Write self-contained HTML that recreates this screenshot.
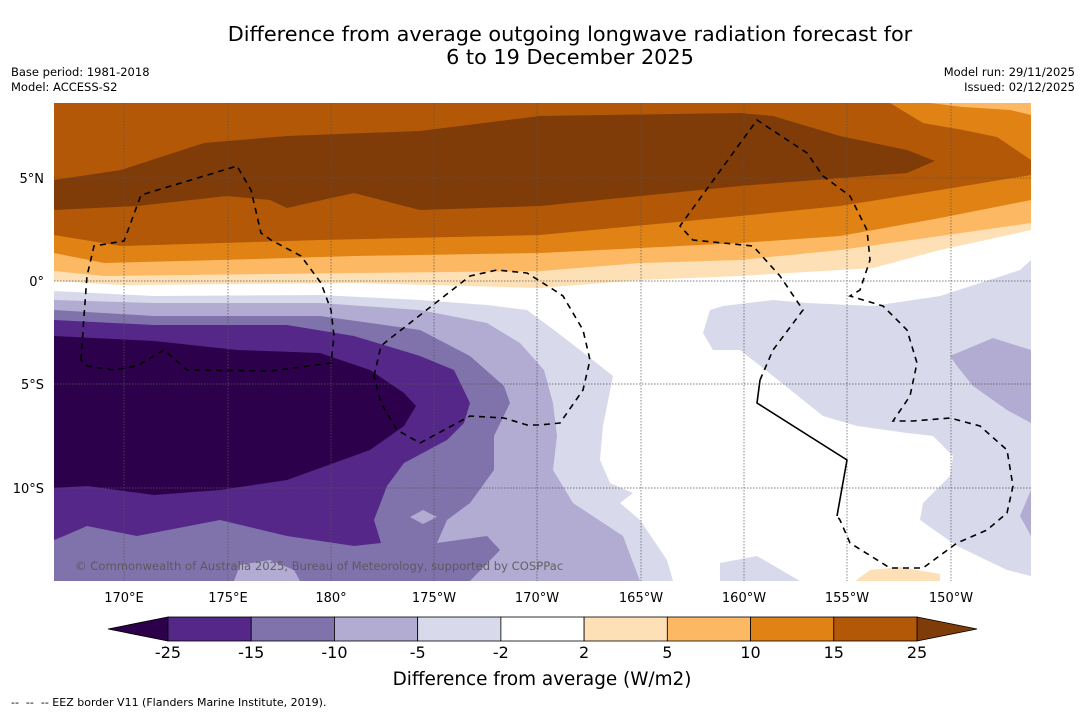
<!DOCTYPE html>
<html><head><meta charset="utf-8"><style>
body{margin:0;background:#fff;width:1085px;height:713px;overflow:hidden;font-family:"DejaVu Sans","Liberation Sans",sans-serif}
svg{position:absolute;left:0;top:0;font-family:"DejaVu Sans","Liberation Sans",sans-serif}
</style></head><body>
<svg width="1085" height="713" viewBox="0 0 1085 713">
<text x="570" y="41" font-size="20.8" text-anchor="middle">Difference from average outgoing longwave radiation forecast for</text>
<text x="570" y="64" font-size="20.8" text-anchor="middle">6 to 19 December 2025</text>
<text x="11" y="76" font-size="11.5">Base period: 1981-2018</text>
<text x="11" y="91" font-size="11.5">Model: ACCESS-S2</text>
<text x="1075" y="76" font-size="11.5" text-anchor="end">Model run: 29/11/2025</text>
<text x="1075" y="91" font-size="11.5" text-anchor="end">Issued: 02/12/2025</text>

<defs><clipPath id="mc"><rect x="54" y="103" width="977" height="478"/></clipPath></defs>
<g clip-path="url(#mc)">
<rect x="54" y="103" width="977" height="478" fill="#fff"/>
<polygon fill="#fee0b6" points="54,103 1031,103 1031,230 940,250 873,268 840,270 740,276 640,280 540,288 354,283 121,285 54,281"/>
<polygon fill="#fdb863" points="54,103 1031,103 1031,223 940,236 840,250 740,260 640,263 540,271 354,273 187,275 104,276 54,271"/>
<polygon fill="#e08214" points="54,103 930,103 963,107 1010,110 1031,115 1031,200 940,218 840,236 740,243 540,253 354,256 220,260 104,263 54,253"/>
<polygon fill="#b35806" points="54,103 890,103 923,123 963,130 997,137 1031,160 1031,175 940,190 840,206 740,216 540,235 320,240 220,243 121,246 54,235"/>
<polygon fill="#7f3b08" points="54,180 121,170 164,156 204,143 287,136 420,131 540,116 740,113 773,116 840,136 907,150 935,161 907,173 840,178 740,186 640,196 540,206 420,210 354,193 331,198 287,208 270,200 227,196 137,206 54,210"/>
<polygon fill="#d8daeb" points="710,310 703,333 713,350 740,350 773,376 823,416 857,426 907,433 933,436 953,456 950,476 923,503 920,520 957,546 1007,570 1031,576 1031,260 1020,270 940,296 873,306 807,303 773,300 723,306"/>
<polygon fill="#b2abd2" points="950,356 993,338 1031,350 1031,423 1007,410 973,386 957,366"/>
<polygon fill="#b2abd2" points="1020,516 1031,490 1031,536"/>
<polygon fill="#d8daeb" points="720,581 720,563 757,556 800,581"/>
<polygon fill="#fee0b6" points="855,581 870,570 900,567 940,574 940,581"/>
<polygon fill="#d8daeb" points="54,291 154,296 320,295 420,300 487,305 527,310 554,330 580,350 613,376 603,426 600,460 610,483 633,493 620,503 640,520 667,560 673,581 54,581"/>
<polygon fill="#b2abd2" points="54,300 154,303 320,303 420,310 487,323 520,343 544,370 553,403 557,436 553,470 573,503 623,536 640,581 54,581"/>
<polygon fill="#8073ac" points="54,310 154,316 320,316 420,330 470,356 504,386 510,403 494,436 494,470 470,503 447,520 437,543 487,536 500,550 470,581 54,581"/>
<polygon fill="#b2abd2" points="410,517 423,510 437,517 423,524"/>
<polygon fill="#b2abd2" points="234,581 240,565 270,560 294,570 300,581"/>
<polygon fill="#542788" points="54,320 154,325 287,325 354,336 420,356 454,370 470,403 464,423 447,440 404,463 387,486 374,520 381,543 354,546 287,536 220,520 137,536 87,526 64,536 54,540"/>
<polygon fill="#2d004b" points="54,336 154,341 237,350 320,353 370,370 404,393 416,406 404,426 370,450 287,480 220,490 154,495 87,486 54,488"/>

<g stroke="#555" stroke-width="0.7" stroke-dasharray="1.5,1.5">
<line x1="124" y1="103" x2="124" y2="581"/><line x1="228" y1="103" x2="228" y2="581"/><line x1="331" y1="103" x2="331" y2="581"/>
<line x1="434" y1="103" x2="434" y2="581"/><line x1="537" y1="103" x2="537" y2="581"/><line x1="641" y1="103" x2="641" y2="581"/>
<line x1="744" y1="103" x2="744" y2="581"/><line x1="847" y1="103" x2="847" y2="581"/><line x1="951" y1="103" x2="951" y2="581"/>
<line x1="54" y1="178" x2="1031" y2="178"/><line x1="54" y1="281" x2="1031" y2="281"/><line x1="54" y1="384" x2="1031" y2="384"/><line x1="54" y1="488" x2="1031" y2="488"/>
</g>
<g fill="none" stroke="#000" stroke-width="1.6" stroke-dasharray="6,5">
<polygon points="81,360 84,316 87,276 94,246 124,241 141,195 191,180 237,166 251,190 261,233 271,240 301,256 321,283 331,310 334,336 331,363 271,371 187,370 164,350 137,366 114,370 87,366"/>
<polygon points="374,376 381,346 387,341 470,276 497,270 527,273 554,290 563,296 583,330 590,360 583,390 560,423 540,425 527,425 504,418 470,416 420,443 397,430 381,403"/>
<polyline points="760,380 773,350 803,310 780,276 753,246 693,240 680,226 757,120 807,153 823,176 850,196 867,230 870,260 860,290 850,296 883,306 907,330 917,363 910,396 893,421 913,421 950,418 980,426 1007,450 1013,486 1007,513 987,530 957,543 923,568 890,568 850,543 840,520 837,516"/>
</g>
<polyline fill="none" stroke="#000" stroke-width="1.6" points="837,516 847,460 757,403 760,380"/>
<text x="75" y="570" font-size="11.6" fill="#555" fill-opacity="0.85">© Commonwealth of Australia 2025, Bureau of Meteorology, supported by COSPPac</text>
</g>

<g font-size="13" text-anchor="middle">
<text x="124" y="602">170°E</text><text x="228" y="602">175°E</text><text x="331" y="602">180°</text><text x="434" y="602">175°W</text><text x="537" y="602">170°W</text><text x="641" y="602">165°W</text><text x="744" y="602">160°W</text><text x="847" y="602">155°W</text><text x="951" y="602">150°W</text>
</g>
<g font-size="13" text-anchor="end">
<text x="44" y="183">5°N</text><text x="44" y="286">0°</text><text x="44" y="389">5°S</text><text x="44" y="493">10°S</text>
</g>
<g id="cbar"></g>
<text x="542" y="685" font-size="18.4" text-anchor="middle">Difference from average (W/m2)</text>
<text x="11" y="706" font-size="11" xml:space="preserve">--  --  -- EEZ border V11 (Flanders Marine Institute, 2019).</text>
</svg>
<script>
const levels=[-25,-15,-10,-5,-2,2,5,10,15,25];
const boxColors=["#542788","#8073ac","#b2abd2","#d8daeb","#ffffff","#fee0b6","#fdb863","#e08214","#b35806"];
const extendColors=["#2d004b","#7f3b08"];
const NS="http://www.w3.org/2000/svg";
const g=document.getElementById('cbar');
const x0=168,x1=917,yT=617,yB=641;
function cx(i){return x0+(x1-x0)*i/(levels.length-1);}
function mk(t,a){const e=document.createElementNS(NS,t);for(const k in a)e.setAttribute(k,a[k]);g.appendChild(e);return e;}
let l=mk('polygon',{points:`108,629 ${x0},${yT} ${x0},${yB}`,fill:extendColors[0],stroke:'#000','stroke-width':0.8});


let r=mk('polygon',{points:`977,629 ${x1},${yT} ${x1},${yB}`,fill:extendColors[1],stroke:'#000','stroke-width':0.8});


boxColors.forEach((c,i)=>{
 const b=mk('rect',{x:cx(i),y:yT,width:cx(i+1)-cx(i),height:yB-yT,fill:c,stroke:'#000','stroke-width':0.8});
 
 
});
levels.forEach((v,i)=>{
 const t=mk('text',{x:cx(i),y:658,'font-size':16,'text-anchor':'middle'});
 t.textContent=v;
 
 
});
</script>
</body></html>
